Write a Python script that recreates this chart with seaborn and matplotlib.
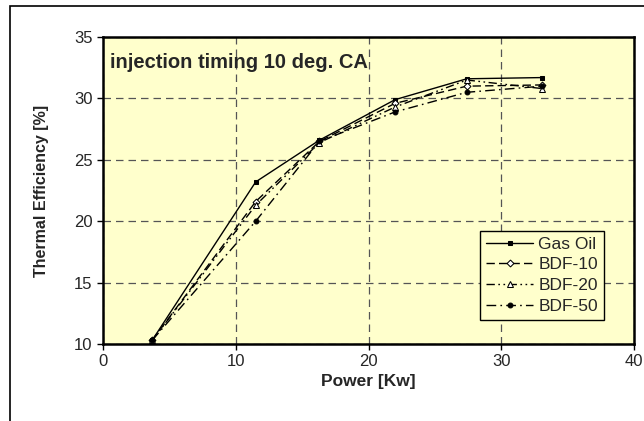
import numpy as np
import pandas as pd
import matplotlib
matplotlib.use("Agg")
import matplotlib.pyplot as plt
import seaborn as sns
from matplotlib.patches import Rectangle

power = [3.7, 11.5, 16.3, 22.0, 27.4, 33.1]
gas_oil = [10.3, 23.2, 26.6, 29.9, 31.6, 31.7]
bdf10 = [10.3, 21.6, 26.5, 29.6, 31.0, 31.1]
bdf20 = [10.3, 21.3, 26.4, 29.3, 31.5, 30.8]
bdf50 = [10.3, 20.0, 26.5, 28.9, 30.5, 31.0]
series_names = ["Gas Oil", "BDF-10", "BDF-20", "BDF-50"]
x_ticks = [0, 10, 20, 30, 40]
y_ticks = [10, 15, 20, 25, 30, 35]

rows = []
for name, vals in zip(series_names, [gas_oil, bdf10, bdf20, bdf50]):
    for p, v in zip(power, vals):
        rows.append({"Power": p, "Eff": v, "Fuel": name})
df = pd.DataFrame(rows)

sns.set_theme(style="white")
plt.rcParams["font.family"] = ["Liberation Sans", "DejaVu Sans"]

fig = plt.figure(figsize=(6.44, 4.21), dpi=100)
ax = fig.add_axes([0.16, 0.183, 0.8245, 0.729])
ax.set_facecolor("#FFFFCC")

dashes = {"Gas Oil": "", "BDF-10": (6, 3), "BDF-20": (6, 2.5, 1.2, 2.5, 1.2, 2.5), "BDF-50": (7, 3, 1.2, 3)}
markers = {"Gas Oil": "s", "BDF-10": "D", "BDF-20": "^", "BDF-50": "o"}
sns.lineplot(data=df, x="Power", y="Eff", hue="Fuel", style="Fuel",
             palette={n: "black" for n in series_names},
             dashes=dashes, markers=markers, markersize=3.5, linewidth=1.0,
             hue_order=series_names, style_order=series_names, ax=ax, legend=True)

for line in ax.get_lines():
    if line.get_marker() == "D":
        line.set_markerfacecolor("white")
        line.set_markeredgecolor("black")
        line.set_markersize(3.5)
    elif line.get_marker() == "^":
        line.set_markerfacecolor("white")
        line.set_markeredgecolor("black")
        line.set_markersize(4.5)
    else:
        line.set_markerfacecolor("black")
        line.set_markeredgecolor("black")

ax.set_xlim(0, 40)
ax.set_ylim(10, 35)
ax.set_xticks(x_ticks)
ax.set_yticks(y_ticks)
ax.grid(True, color="#555555", linestyle=(0, (6, 4)), linewidth=0.9)
ax.tick_params(axis="both", which="both", direction="out", length=4, width=1,
               labelsize=12, color="black", bottom=True, left=True)
for s in ax.spines.values():
    s.set_color("black")
    s.set_linewidth(1.8)

ax.set_xlabel("Power [Kw]", fontsize=12.5, fontweight="bold", labelpad=3)
ax.set_ylabel("Thermal Efficiency [%]", fontsize=11.5, fontweight="bold", labelpad=18)
ax.text(0.55, 32.9, "injection timing 10 deg. CA", fontsize=14.5, fontweight="bold", va="center")

handles, labels = ax.get_legend_handles_labels()
leg = ax.legend(handles, labels, loc="lower right", bbox_to_anchor=(0.96, 0.05),
                frameon=True, fancybox=False, fontsize=12.5, handlelength=2.7,
                borderpad=0.35, labelspacing=0.32, handletextpad=0.3)
leg.get_frame().set_edgecolor("black")
leg.get_frame().set_facecolor("#FFFFCC")
leg.get_frame().set_linewidth(1.0)
leg.get_frame().set_alpha(1)

fig.patches.append(Rectangle((10 / 644, -0.05), 1.2, 1 - 6 / 421 + 0.05,
                             transform=fig.transFigure, fill=False,
                             edgecolor="black", linewidth=1.2))

fig.savefig("out.png", dpi=100)
